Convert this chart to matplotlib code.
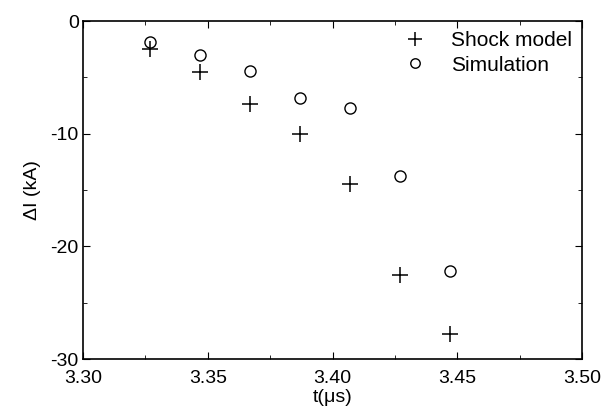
import matplotlib
matplotlib.use("Agg")
import matplotlib.pyplot as plt
from matplotlib.ticker import MultipleLocator

plt.rcParams["font.family"] = ["Liberation Sans", "DejaVu Sans"]
plt.rcParams["axes.unicode_minus"] = False

t_us = [3.327, 3.347, 3.367, 3.387, 3.407, 3.427, 3.447]
shock_model = [-2.5, -4.5, -7.4, -10.0, -14.5, -22.5, -27.8]
simulation = [-1.9, -3.0, -4.4, -6.8, -7.7, -13.8, -22.2]

fig = plt.figure(figsize=(6.06, 4.11), dpi=100)
ax = fig.add_axes([83 / 606, 1 - 359 / 411, (582 - 83) / 606, (359 - 21) / 411])

ax.plot(t_us, shock_model, linestyle="none", marker="+", markersize=12,
        markeredgewidth=1.1, color="black", label="Shock model")
ax.plot(t_us, simulation, linestyle="none", marker="o", markersize=8,
        markerfacecolor="none", markeredgewidth=1.0, color="black", label="Simulation")

ax.set_xlim(3.30, 3.50)
ax.set_ylim(-30, 0)
ax.xaxis.set_major_locator(MultipleLocator(0.05))
ax.xaxis.set_minor_locator(MultipleLocator(0.025))
ax.yaxis.set_major_locator(MultipleLocator(10))
ax.yaxis.set_minor_locator(MultipleLocator(5))
ax.xaxis.set_major_formatter(plt.FormatStrFormatter("%.2f"))
ax.tick_params(which="both", direction="in", top=True, right=True, labelsize=14)
ax.tick_params(which="major", length=5)
ax.tick_params(which="minor", length=3)
ax.tick_params(axis="y", pad=3)
ax.tick_params(axis="x", pad=8)
for s in ax.spines.values():
    s.set_linewidth(1.2)

ax.set_xlabel("t(\u03bcs)", fontsize=14, labelpad=1)
ax.set_ylabel("\u0394I (kA)", fontsize=14, labelpad=7)

ax.legend(loc="upper right", frameon=False, fontsize=15, handletextpad=0.9,
          handlelength=1.6, borderaxespad=0.1, labelspacing=0.25, markerscale=0.85)

fig.savefig("out.png", dpi=100)
